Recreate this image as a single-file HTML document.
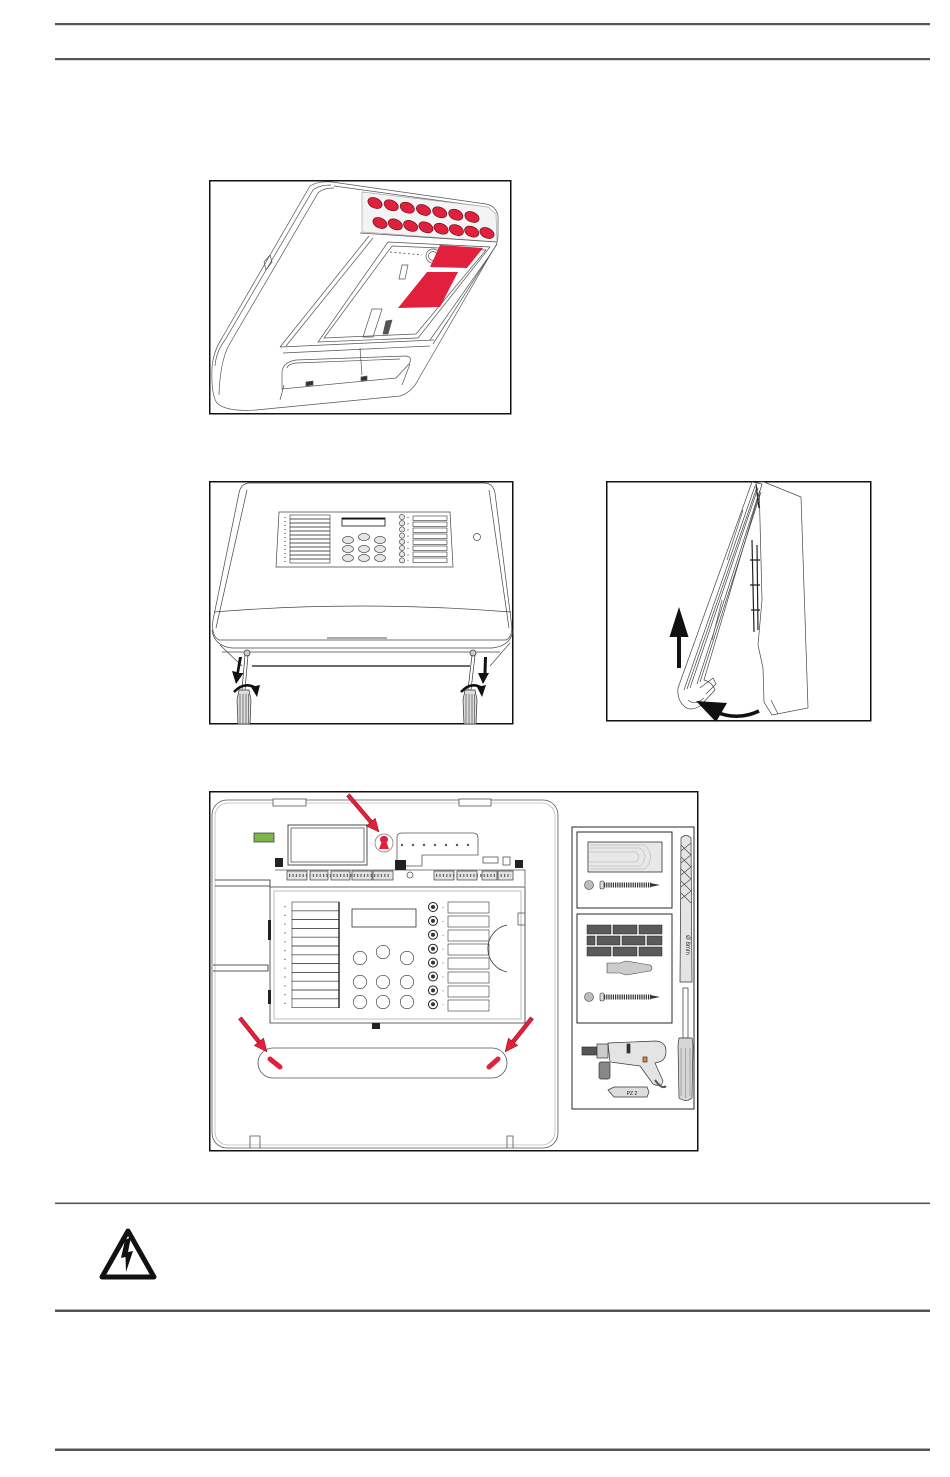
<!DOCTYPE html>
<html><head><meta charset="utf-8"><style>html,body{margin:0;padding:0;background:#fff}svg{display:block}</style></head>
<body>
<svg width="950" height="1477" viewBox="0 0 950 1477" xmlns="http://www.w3.org/2000/svg">
<rect width="950" height="1477" fill="#fff"/>
<!-- page rules -->
<rect x="55" y="23" width="875" height="2.2" fill="#555"/>
<rect x="55" y="58" width="875" height="2.2" fill="#555"/>
<rect x="55" y="1202.5" width="875" height="1.6" fill="#555"/>
<rect x="55" y="1309.5" width="875" height="2.5" fill="#555"/>
<rect x="55" y="1448.5" width="875" height="2.5" fill="#555"/>

<!-- ================= FIGURE 1 ================= -->
<rect x="209.75" y="180.75" width="301" height="233" fill="none" stroke="#111" stroke-width="1.5"/>
<g fill="none" stroke="#555" stroke-width="0.7">
  <path d="M310,186 Q318,181 332,182 L486,204 Q496,206 498,216 L498,236 Q498,244 493,250 L418,380 Q412,392 400,396 L256,410 Q226,412 217,403 Q211,395 212,368 Q213,352 222,338 Z" fill="#fff"/>
  <path d="M215,366 Q216,352 225,340 L313,190 Q319,185 331,185"/>
  <path d="M219,395 Q220,362 229,345 L318,193 Q323,188 334,188"/>
  <path d="M334,186 L486,207"/>
  <path d="M264,262 L270,255 L272,262 L266,270 Z"/>
  <polygon points="362,192 488,207 496,214 497,242 362,232" fill="#f4f4f4" stroke="#aaa"/>
  <path d="M360,233 L497,242"/>
  <path d="M369,236 L280,347"/>
  <path d="M373,238 L286,346"/>
  <path d="M280,347 L434,340"/>
  <path d="M283,353 L430,346"/>
  <polygon points="388,242 490,247 418,338 318,342"/>
  <path d="M392,246 L486,250 L416,334 L324,338 Z"/>
  <path d="M497,244 L433,344"/>
  <path d="M492,252 L430,340"/>
  <circle cx="433" cy="256" r="7"/>
  <circle cx="433" cy="256" r="4.5"/>
  <path d="M390,252 L422,255" stroke-dasharray="2,2.5" stroke="#333"/>
  <path d="M402,265 L408,265 L405,279 L399,279 Z"/>
  <path d="M372,309 L382,309 L373,337 L363,337 Z"/>
  <path d="M386,321 L392,320 L388,334 L383,334 Z" fill="#555"/>
  <path d="M282,372 Q283,362 296,360 L406,356 Q413,357 409,364 L396,378 L282,389 Z"/>
  <path d="M287,368 Q288,364 296,363 L400,359"/>
  <path d="M360,348 L362,375"/>
  <path d="M306,382 L313,381 L313,385 L306,386 Z" fill="#333"/>
  <path d="M361,377 L367,376 L367,380 L361,381 Z" fill="#333"/>
  <path d="M284,385 L280,400"/>
  <path d="M410,364 L402,385"/>
</g>
<g fill="#e0203c" stroke="#5a0a14" stroke-width="0.6">
  <ellipse cx="375" cy="203" rx="7.5" ry="5" transform="rotate(25 375 203)"/>
  <ellipse cx="391.2" cy="205.3" rx="7.5" ry="5" transform="rotate(25 391.2 205.3)"/>
  <ellipse cx="407.3" cy="207.7" rx="7.5" ry="5" transform="rotate(25 407.3 207.7)"/>
  <ellipse cx="423.5" cy="210" rx="7.5" ry="5" transform="rotate(25 423.5 210)"/>
  <ellipse cx="439.7" cy="212.3" rx="7.5" ry="5" transform="rotate(25 439.7 212.3)"/>
  <ellipse cx="455.8" cy="214.7" rx="7.5" ry="5" transform="rotate(25 455.8 214.7)"/>
  <ellipse cx="472" cy="217" rx="7.5" ry="5" transform="rotate(25 472 217)"/>
  <ellipse cx="380" cy="223" rx="7.5" ry="5" transform="rotate(25 380 223)"/>
  <ellipse cx="395.3" cy="224.4" rx="7.5" ry="5" transform="rotate(25 395.3 224.4)"/>
  <ellipse cx="410.6" cy="225.9" rx="7.5" ry="5" transform="rotate(25 410.6 225.9)"/>
  <ellipse cx="425.9" cy="227.3" rx="7.5" ry="5" transform="rotate(25 425.9 227.3)"/>
  <ellipse cx="441.1" cy="228.7" rx="7.5" ry="5" transform="rotate(25 441.1 228.7)"/>
  <ellipse cx="456.4" cy="230.1" rx="7.5" ry="5" transform="rotate(25 456.4 230.1)"/>
  <ellipse cx="471.7" cy="231.6" rx="7.5" ry="5" transform="rotate(25 471.7 231.6)"/>
  <ellipse cx="487" cy="233" rx="7.5" ry="5" transform="rotate(25 487 233)"/>
</g>
<polygon points="440,245 483,248 467,268 430,267" fill="#e0203c"/>
<polygon points="427,272 458,272 440,307 398,308" fill="#e0203c"/>

<!-- ================= FIGURE 2 ================= -->
<rect x="209.75" y="481.75" width="303" height="242" fill="none" stroke="#111" stroke-width="1.5"/>
<g fill="none" stroke="#444" stroke-width="0.7">
  <path d="M250,483 L484,483 Q493,483 495,493 L511,620 Q514,636 506,640 L219,640 Q211,636 213,620 L239,493 Q241,483 250,483 Z" fill="#fff"/>
  <path d="M247,490 L216,628"/>
  <path d="M489,490 L509,628"/>
  <path d="M214,612 Q360,600 511,612"/>
  <path d="M212,630 Q214,646 232,648 L492,648 Q511,646 513,630"/>
  <path d="M222,652 L500,652"/>
  <path d="M327,638 L387,638" stroke="#aaa" stroke-width="2"/>
  <path d="M220,645 L242,666"/>
  <path d="M510,643 L490,666"/>
  <polygon points="279,512 450,512 453,567 276,567"/>
  <circle cx="477" cy="537" r="3.5"/>
</g>
<g fill="none" stroke="#333" stroke-width="0.6">
  <rect x="290" y="515" width="40" height="4"/><rect x="290" y="519" width="40" height="4"/><rect x="290" y="523" width="40" height="4"/><rect x="290" y="527" width="40" height="4"/>
  <rect x="290" y="531" width="40" height="4"/><rect x="290" y="535" width="40" height="4"/><rect x="290" y="539" width="40" height="4"/><rect x="290" y="543" width="40" height="4"/>
  <rect x="290" y="547" width="40" height="4"/><rect x="290" y="551" width="40" height="4"/><rect x="290" y="555" width="40" height="4"/><rect x="290" y="559" width="40" height="4"/>
  <rect x="413" y="516" width="34" height="4.5"/><rect x="413" y="522" width="34" height="4.5"/><rect x="413" y="528" width="34" height="4.5"/><rect x="413" y="534" width="34" height="4.5"/>
  <rect x="413" y="540" width="34" height="4.5"/><rect x="413" y="546" width="34" height="4.5"/><rect x="413" y="552" width="34" height="4.5"/><rect x="413" y="558" width="34" height="4.5"/>
</g>
<g fill="#e6e6e6" stroke="#333" stroke-width="0.6">
  <ellipse cx="348" cy="540" rx="5.5" ry="3.6"/><ellipse cx="364" cy="537" rx="5.5" ry="3.6"/><ellipse cx="380" cy="540" rx="5.5" ry="3.6"/>
  <ellipse cx="348" cy="549" rx="5.5" ry="3.6"/><ellipse cx="364" cy="549" rx="5.5" ry="3.6"/><ellipse cx="380" cy="549" rx="5.5" ry="3.6"/>
  <ellipse cx="348" cy="558" rx="5.5" ry="3.6"/><ellipse cx="364" cy="558" rx="5.5" ry="3.6"/><ellipse cx="380" cy="558" rx="5.5" ry="3.6"/>
  <circle cx="402" cy="517" r="2.6"/><circle cx="402" cy="523.2" r="2.6"/><circle cx="402" cy="529.4" r="2.6"/><circle cx="402" cy="535.6" r="2.6"/>
  <circle cx="402" cy="541.8" r="2.6"/><circle cx="402" cy="548" r="2.6"/><circle cx="402" cy="554.2" r="2.6"/><circle cx="402" cy="560.4" r="2.6"/>
</g>
<rect x="342" y="518" width="43" height="8" fill="none" stroke="#111" stroke-width="0.8"/>
<rect x="342" y="518" width="43" height="1.5" fill="#111"/>
<path d="M285,517 L285,563" stroke="#555" stroke-width="1.2" stroke-dasharray="1,3"/>
<path d="M408,517 L408,561" stroke="#555" stroke-width="1.2" stroke-dasharray="1,5.2"/>
<line x1="252" y1="666" x2="470" y2="666" stroke="#111" stroke-width="1.3"/>
<!-- screwdrivers -->
<g stroke="#333" stroke-width="0.7">
  <circle cx="247" cy="653" r="3" fill="#ccc"/>
  <circle cx="473" cy="653" r="3" fill="#ccc"/>
  <path d="M245,655 L242,690 M248,655 L245,690" fill="none"/>
  <path d="M472,655 L468,690 M475,655 L471,690" fill="none"/>
  <path d="M239,690 L249,690 L251,700 L250,724 L238,724 L237,700 Z" fill="#ddd"/>
  <path d="M240,694 L240,724 M243,694 L243,724 M246,694 L246,724 M248.5,694 L248.5,724" fill="none" stroke="#555"/>
  <path d="M465,690 L475,690 L477,700 L476,724 L464,724 L463,700 Z" fill="#ddd"/>
  <path d="M466,694 L466,724 M469,694 L469,724 M472,694 L472,724 M474.5,694 L474.5,724" fill="none" stroke="#555"/>
</g>
<g fill="#111">
  <path d="M239,657 L242,657 L239,673 L243.5,673 L236,684 L232,671 L236.5,672 Z"/>
  <path d="M484,657 L487,657 L486.5,673 L489,673 L483,684 L478,673 L483.5,673 Z"/>
  <path d="M234,692 Q244,681 256,688" fill="none" stroke="#111" stroke-width="2.5"/>
  <polygon points="251,687 260,685 257,697"/>
  <path d="M461,692 Q471,681 482,688" fill="none" stroke="#111" stroke-width="2.5"/>
  <polygon points="477,687 486,685 482,697"/>
</g>

<!-- ================= FIGURE 3 ================= -->
<rect x="606.75" y="481.75" width="264" height="239" fill="none" stroke="#111" stroke-width="1.5"/>
<g fill="none" stroke="#444" stroke-width="0.7">
  <path d="M764,482 L801,497 L808,708 L772,715 L764,702 L763,668 L758,645 L762,600 L759,482 Z" fill="#fff"/>
  <path d="M771,700 L778,714"/>
  <path d="M752,482 L762,484 L704,680 Q712,682 715,690 L700,706 Q690,712 684,706 Q677,700 678,688 Z" fill="#fff"/>
  <path d="M755,486 L684,690"/>
  <path d="M757,487 L687,689"/>
  <path d="M758,488 L690,688"/>
  <path d="M760,490 L697,684"/>
  <path d="M761,492 L700,682"/>
  <path d="M700,688 L713,678 L716,684 L706,694"/>
  <path d="M688,700 Q695,706 704,698"/>
</g>
<g stroke="#222" stroke-width="1.2" fill="none">
  <path d="M756,484 L759,508"/>
  <path d="M752,540 L754,632"/>
  <path d="M757,545 L758,630"/>
  <path d="M750,560 L760,560 M750,585 L760,585 M751,610 L760,610"/>
  <path d="M743,510 L727,560" stroke="#666" stroke-width="0.8"/>
  <path d="M722,600 L712,640" stroke="#666" stroke-width="0.8"/>
</g>
<g fill="#111">
  <polygon points="679,607 688.5,637 681,637 681,668 677,668 677,637 669.5,637"/>
  <path d="M759,711 Q738,721 716,712" fill="none" stroke="#111" stroke-width="3.5"/>
  <polygon points="696,701 727,703 716,722"/>
</g>

<!-- ================= FIGURE 4 ================= -->
<rect x="209.75" y="791.75" width="488" height="359" fill="none" stroke="#111" stroke-width="1.5"/>
<g fill="none" stroke="#555" stroke-width="0.8">
  <rect x="212" y="800" width="346" height="348" rx="15"/>
  <rect x="215" y="803" width="340" height="342" rx="13" stroke="#bbb"/>
  <rect x="273" y="799" width="33" height="7" fill="#fff"/>
  <rect x="459" y="799" width="32" height="7" fill="#fff"/>
  <path d="M250,1148 L250,1136 L260,1136 L260,1148 M507,1148 L507,1136 L513,1136 L513,1148"/>
  <rect x="288" y="825" width="79" height="40" stroke="#222"/>
  <rect x="291" y="828" width="73" height="34"/>
  <path d="M397,837 Q397,833 402,833 L473,833 Q478,833 478,838 L478,855 L422,855 L422,866 L397,866 Z"/>
  <path d="M215,880 L270,880 L270,886 L215,886" stroke="#222"/>
  <path d="M213,965 L268,965 L268,971 L213,971" stroke="#222"/>
  <path d="M275,870 L525,870 L525,886"/>
  <path d="M270,887 L525,887 L525,1023 L270,1023 Z" stroke="#333"/>
  <path d="M274,891 L521,891 L521,1019 L274,1019 Z" stroke="#aaa"/>
  <path d="M507,925 A24,24 0 0 0 507,972" stroke="#333"/>
  <rect x="518" y="913" width="7" height="12"/>
  <rect x="483" y="857" width="15" height="6"/>
  <rect x="503" y="857" width="7" height="8"/>
  <rect x="258" y="1048" width="249" height="30" rx="15" stroke="#555"/>
  <rect x="352" y="909" width="64" height="18" stroke="#333"/>
  <circle cx="410" cy="875" r="3"/>
</g>
<g fill="#e2e2e2" stroke="#222" stroke-width="0.6">
  <rect x="287" y="871" width="20" height="9"/><rect x="310" y="871" width="18" height="9"/><rect x="331" y="871" width="19" height="9"/>
  <rect x="352" y="871" width="20" height="9"/><rect x="373" y="871" width="20" height="9"/>
  <rect x="434" y="871" width="20" height="9"/><rect x="457" y="871" width="20" height="9"/><rect x="482" y="871" width="15" height="9"/><rect x="498" y="871" width="15" height="9"/>
</g>
<path d="M289,875.5 L391,875.5 M436,875.5 L511,875.5" stroke="#666" stroke-width="3" stroke-dasharray="1.2,2.2"/>
<g fill="#222">
  <rect x="275" y="858" width="8" height="9"/><rect x="395" y="860" width="11" height="10"/><rect x="515" y="860" width="8" height="8"/>
  <rect x="372" y="1023" width="8" height="6"/>
  <rect x="268" y="920" width="3" height="20"/><rect x="268" y="990" width="3" height="14"/>
</g>
<rect x="254" y="833" width="20" height="9" fill="#7ab648" stroke="#333" stroke-width="0.7"/>
<g fill="#555">
  <circle cx="402" cy="845" r="1.2"/><circle cx="413" cy="845" r="1.2"/><circle cx="424" cy="845" r="1.2"/><circle cx="435" cy="845" r="1.2"/><circle cx="446" cy="845" r="1.2"/><circle cx="457" cy="845" r="1.2"/><circle cx="468" cy="845" r="1.2"/>
</g>
<g fill="none" stroke="#333" stroke-width="0.6">
  <rect x="292" y="902" width="47" height="8.8"/><rect x="292" y="910.8" width="47" height="8.8"/><rect x="292" y="919.6" width="47" height="8.8"/><rect x="292" y="928.4" width="47" height="8.8"/>
  <rect x="292" y="937.2" width="47" height="8.8"/><rect x="292" y="946" width="47" height="8.8"/><rect x="292" y="954.8" width="47" height="8.8"/><rect x="292" y="963.6" width="47" height="8.8"/>
  <rect x="292" y="972.4" width="47" height="8.8"/><rect x="292" y="981.2" width="47" height="8.8"/><rect x="292" y="990" width="47" height="8.8"/><rect x="292" y="998.8" width="47" height="8.8"/>
  <rect x="448" y="902" width="41" height="11"/><rect x="448" y="916" width="41" height="11"/><rect x="448" y="930" width="41" height="11"/><rect x="448" y="944" width="41" height="11"/>
  <rect x="448" y="958" width="41" height="11"/><rect x="448" y="972" width="41" height="11"/><rect x="448" y="986" width="41" height="11"/><rect x="448" y="1000" width="41" height="11"/>
  <circle cx="360" cy="958" r="6.7"/><circle cx="383" cy="952" r="6.7"/><circle cx="407" cy="958" r="6.7"/>
  <circle cx="360" cy="982" r="6.7"/><circle cx="383" cy="982" r="6.7"/><circle cx="407" cy="982" r="6.7"/>
  <circle cx="360" cy="1002" r="6.7"/><circle cx="383" cy="1002" r="6.7"/><circle cx="407" cy="1002" r="6.7"/>
</g>
<path d="M339,902 L339,1008" stroke="#111" stroke-width="1.3"/>
<path d="M285,906 L285,1006" stroke="#777" stroke-width="1.4" stroke-dasharray="1.2,7.6"/>
<g fill="#fff" stroke="#222" stroke-width="1">
  <circle cx="433" cy="907" r="4.5"/><circle cx="433" cy="920.9" r="4.5"/><circle cx="433" cy="934.8" r="4.5"/><circle cx="433" cy="948.7" r="4.5"/>
  <circle cx="433" cy="962.6" r="4.5"/><circle cx="433" cy="976.5" r="4.5"/><circle cx="433" cy="990.4" r="4.5"/><circle cx="433" cy="1004.3" r="4.5"/>
</g>
<g fill="#333">
  <circle cx="433" cy="907" r="2"/><circle cx="433" cy="920.9" r="2"/><circle cx="433" cy="934.8" r="2"/><circle cx="433" cy="948.7" r="2"/>
  <circle cx="433" cy="962.6" r="2"/><circle cx="433" cy="976.5" r="2"/><circle cx="433" cy="990.4" r="2"/><circle cx="433" cy="1004.3" r="2"/>
</g>
<path d="M443,907 L443,1005" stroke="#888" stroke-width="1.2" stroke-dasharray="1,12.9"/>
<!-- keyhole -->
<circle cx="384" cy="843" r="9" fill="#fff" stroke="#999" stroke-width="1"/>
<path d="M384,836 A3.6,3.6 0 0 1 386.5,842.5 L389,849 L379,849 L381.5,842.5 A3.6,3.6 0 0 1 384,836 Z" fill="#e0203c"/>
<!-- red slot marks -->
<g stroke="#e0203c" stroke-width="5" stroke-linecap="round">
  <line x1="270" y1="1059" x2="280" y2="1067"/>
  <line x1="489" y1="1067" x2="498" y2="1059"/>
</g>
<!-- red arrows -->
<g fill="#e0203c" stroke="#8a1020" stroke-width="0.5">
  <path d="M346.5,796.3 L349.5,793.7 L372.5,820.7 L369.5,823.3 Z"/>
  <polygon points="379,832 366.1,825.9 375.3,818.2"/>
  <path d="M238.4,1019.2 L241.6,1016.8 L260.6,1040.6 L257.4,1043.1 Z"/>
  <polygon points="267,1052 254.2,1045.5 263.6,1038.1"/>
  <path d="M533.6,1019.2 L530.4,1016.8 L511.4,1040.6 L514.6,1043.1 Z"/>
  <polygon points="505,1052 517.8,1045.5 508.4,1038.1"/>
</g>
<!-- tools panel -->
<g fill="none" stroke="#111" stroke-width="0.9">
  <rect x="572" y="827" width="122" height="282"/>
  <rect x="577" y="832" width="95" height="76"/>
  <rect x="577" y="914" width="95" height="109"/>
</g>
<rect x="588" y="842" width="74" height="30" fill="#e8e8e8" stroke="#333" stroke-width="0.8"/>
<g fill="none" stroke="#aaa" stroke-width="0.5">
  <path d="M590,848 L640,848 Q650,857 640,866 L590,866"/>
  <path d="M590,852 L636,852 Q642,857 636,862 L590,862"/>
  <path d="M590,845 L645,845 Q656,857 645,869 L590,869"/>
</g>
<g fill="#5a5a5a" stroke="#222" stroke-width="0.5">
  <rect x="587" y="925" width="24" height="9"/><rect x="613" y="925" width="24" height="9"/><rect x="639" y="925" width="23" height="9"/>
  <rect x="587" y="936" width="8" height="9"/><rect x="597" y="936" width="23" height="9"/><rect x="622" y="936" width="23" height="9"/><rect x="647" y="936" width="15" height="9"/>
  <rect x="587" y="947" width="24" height="9"/><rect x="613" y="947" width="24" height="9"/><rect x="639" y="947" width="23" height="9"/>
</g>
<path d="M607,963 L620,963 L626,961 L650,965 Q654,968 650,971 L626,975 L620,973 L607,973 Z" fill="#ccc" stroke="#444" stroke-width="0.6"/>
<g>
  <circle cx="589" cy="885" r="4.5" fill="#bbb" stroke="#444" stroke-width="0.6"/>
  <rect x="600" y="881" width="4" height="8" rx="1.5" fill="#ddd" stroke="#333" stroke-width="0.6"/>
  <path d="M604,885 L651,885" stroke="#333" stroke-width="5" stroke-dasharray="1.2,1"/>
  <path d="M650,883 L660,885 L650,887 Z" fill="#333"/>
  <circle cx="589" cy="997" r="4.5" fill="#bbb" stroke="#444" stroke-width="0.6"/>
  <rect x="600" y="993" width="4" height="8" rx="1.5" fill="#ddd" stroke="#333" stroke-width="0.6"/>
  <path d="M604,997 L651,997" stroke="#333" stroke-width="5" stroke-dasharray="1.2,1"/>
  <path d="M650,995 L660,997 L650,999 Z" fill="#333"/>
</g>
<!-- drill bit -->
<path d="M681,838 Q686,833 691,838 L692,982 L680,982 Z" fill="#e4e4e4" stroke="#333" stroke-width="0.7"/>
<path d="M681,845 L691,855 M681,857 L691,867 M681,869 L691,879 M681,881 L691,891 M681,893 L691,903 M681,851 L691,843 M681,863 L691,855 M681,875 L691,867 M681,887 L691,879 M681,899 L691,891" stroke="#444" stroke-width="0.7"/>
<text x="686" y="945" font-family="Liberation Sans, sans-serif" font-size="6" fill="#333" transform="rotate(90 686 945)" text-anchor="middle">Ø 8mm</text>
<!-- screwdriver -->
<rect x="683" y="988" width="5" height="50" fill="#fff" stroke="#333" stroke-width="0.7"/>
<path d="M679,1038 L692,1038 L693,1045 L692,1098 Q686,1103 679,1098 L678,1045 Z" fill="#d6d6d6" stroke="#333" stroke-width="0.7"/>
<path d="M681,1048 L681,1096 M685.5,1048 L685.5,1098 M690,1048 L690,1096" stroke="#888" stroke-width="0.6"/>
<!-- drill -->
<g stroke="#333" stroke-width="0.7">
  <rect x="582" y="1047" width="15" height="8" fill="#555"/>
  <rect x="597" y="1044" width="11" height="14" fill="#ccc"/>
  <path d="M608,1043 L656,1041 Q666,1042 666,1051 Q666,1060 659,1062 L655,1063 L663,1081 Q662,1088 653,1084 L640,1066 L610,1062 Z" fill="#e4e4e4"/>
  <rect x="599" y="1062" width="11" height="17" rx="2" fill="#888"/>
  <rect x="627" y="1044" width="3" height="9" fill="#333"/>
  <rect x="643" y="1057" width="4" height="5" fill="#e38a2a"/>
  <path d="M655,1080 Q662,1090 666,1086" fill="none" stroke="#555" stroke-width="2"/>
  <path d="M608,1090 L614,1087 L647,1087 L649,1092 L647,1097 L614,1097 Z" fill="#ddd"/>
</g>
<text x="632" y="1095" font-family="Liberation Sans, sans-serif" font-size="5" fill="#111" text-anchor="middle">PZ 2</text>

<!-- ================= WARNING ICON ================= -->
<path d="M128,1231 L154,1277 L102,1277 Z" fill="#fff" stroke="#111" stroke-width="5" stroke-linejoin="round"/>
<path d="M125,1240 L131,1237 L128,1252 L133,1251 L126,1272 L125.5,1257 L121,1258 Z" fill="#111"/>
</svg>
</body></html>
